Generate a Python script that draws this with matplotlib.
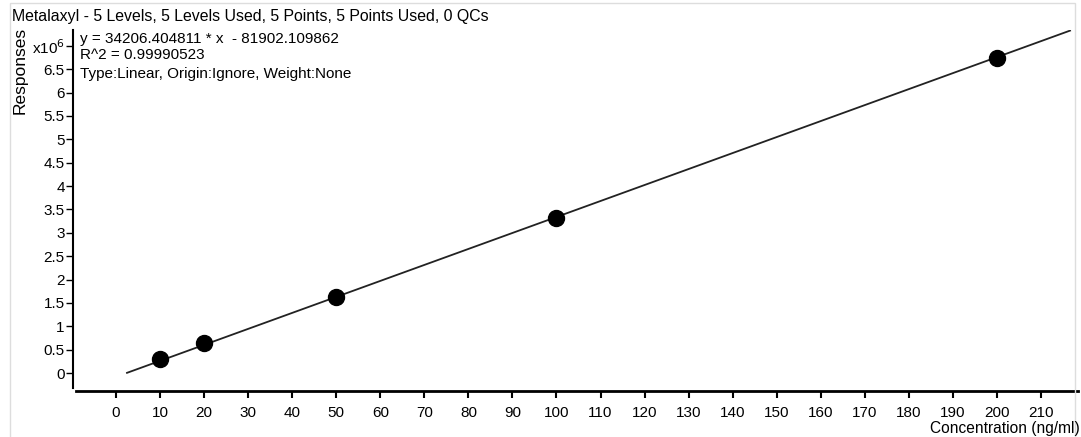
import matplotlib.pyplot as plt
import numpy as np
from matplotlib.patches import Rectangle

plt.rcParams['font.family'] = ['Liberation Sans', 'DejaVu Sans']

# calibration data
conc = [10, 20, 50, 100, 200]
resp = [0.30e6, 0.64e6, 1.63e6, 3.32e6, 6.75e6]
slope = 34206.404811
intercept = -81902.109862
line_x = [2.5, 216.6]

title = "Metalaxyl - 5 Levels, 5 Levels Used, 5 Points, 5 Points Used, 0 QCs"
eq_lines = ["y = 34206.404811 * x  - 81902.109862",
            "R^2 = 0.99990523",
            "Type:Linear, Origin:Ignore, Weight:None"]

y_ticks = [0, 0.5, 1, 1.5, 2, 2.5, 3, 3.5, 4, 4.5, 5, 5.5, 6, 6.5, 7]
y_labels = ["0", "0.5", "1", "1.5", "2", "2.5", "3", "3.5", "4", "4.5",
            "5", "5.5", "6", "6.5", "x10$^6$"]
x_ticks = list(range(0, 211, 10))

fig = plt.figure(figsize=(10.81, 4.37), dpi=100)
ax = fig.add_axes([73/1081, 46/437, 1005/1081, 361/437])

# frame round the whole report
fig.patches.append(Rectangle((10/1081, -0.01), 1065/1081, 1.0 - 3/437 + 0.01,
                             transform=fig.transFigure, fill=False,
                             edgecolor='#dddddd', linewidth=1))

lx = np.array(line_x)
ax.plot(lx, slope*lx + intercept, color='#222222', linewidth=1.3)
ax.plot(conc, resp, 'o', color='black', markersize=11.5)

ax.set_xlim(-9.76, 218.4)
ax.set_ylim(-0.385e6, 7.34e6)

ax.spines['top'].set_visible(False)
ax.spines['right'].set_visible(False)
ax.spines['left'].set_linewidth(1.5)
ax.spines['bottom'].set_linewidth(2)
ax.spines['left'].set_bounds(-0.32e6, 7.34e6)
ax.spines['bottom'].set_bounds(-9.0, 218.4)

ax.set_yticks([v*1e6 for v in y_ticks])
ax.set_yticklabels(y_labels)
ax.set_xticks(x_ticks)
ax.tick_params(axis='y', length=5, width=1, pad=1, labelsize=11)
ax.tick_params(axis='x', length=5, width=1.5, pad=6, labelsize=11)

fig.text(12/1081, 1 - 16/437, title, fontsize=11.4, va='center', ha='left')
fig.text(20/1081, 1 - 70/437, "Responses", fontsize=12.5, rotation=90,
         va='center', ha='center')
for i, t in enumerate(eq_lines):
    fig.text(80/1081, 1 - [39, 55, 74][i]/437, t, fontsize=11,
             va='center', ha='left')
fig.text(1080/1081, 1 - 428/437, "Concentration (ng/ml)", fontsize=11.2,
         va='center', ha='right')

plt.savefig("out.png", dpi=100)
